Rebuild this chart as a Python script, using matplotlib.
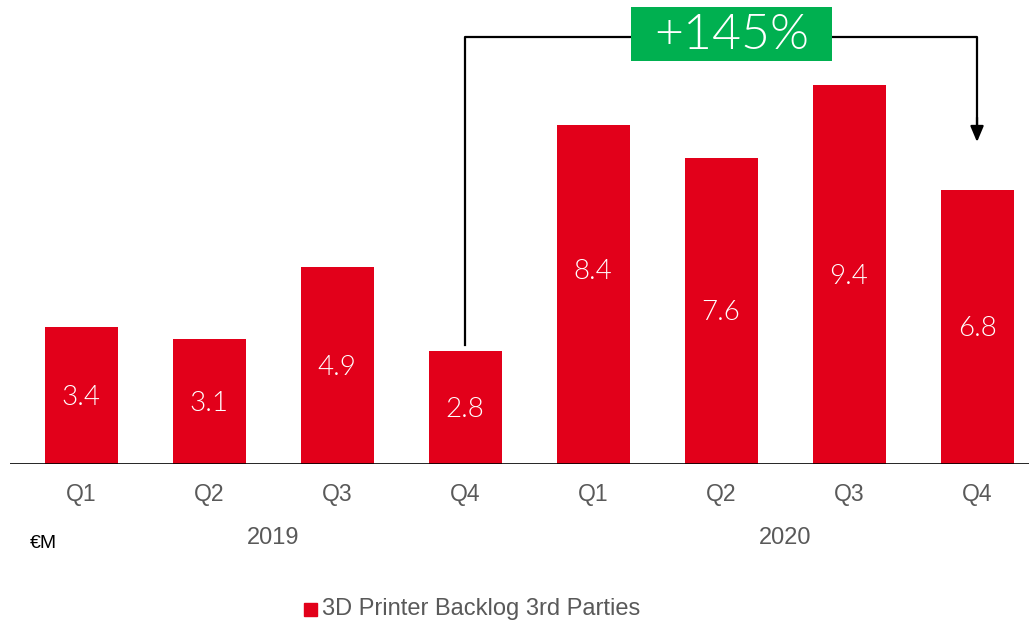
import matplotlib.pyplot as plt
from matplotlib.patches import Rectangle

quarters = ["Q1", "Q2", "Q3", "Q4", "Q1", "Q2", "Q3", "Q4"]
years = ["2019", "2020"]
backlog = [3.4, 3.1, 4.9, 2.8, 8.4, 7.6, 9.4, 6.8]
growth_label = "+145%"
series_name = "3D Printer Backlog 3rd Parties"
unit = "€M"

red = "#E2001A"
green = "#00B050"
grey = "#595959"

plt.rcParams['font.family'] = ['Liberation Sans', 'DejaVu Sans']
thin = ['Lato', 'DejaVu Sans']

fig = plt.figure(figsize=(10.29, 6.22), dpi=100)
W, H = 1029, 622
ax = fig.add_axes([10 / W, (H - 464) / H, 1 - 10 / W, 464 / H])
ax.set_xlim(-0.555, 7.406)
ax.set_ylim(0, 464 / 40.3)
ax.axis('off')

x = list(range(len(backlog)))
ax.bar(x, backlog, width=0.57, color=red, zorder=2)
ax.axhline(0, color="black", lw=1.2, zorder=3)

# value labels, centred in each bar (2020 Q1 sits a little higher)
lift = {4: 0.62}
for i, v in enumerate(backlog):
    ax.text(i, v / 2 + lift.get(i, 0) - 0.05, f"{v}", color="white",
            ha="center", va="center", fontsize=20, family=thin, fontweight=300)

# quarter and year labels under the axis
for i, q in enumerate(quarters):
    ax.text(i, -0.75, q, color=grey, ha="center", va="center", fontsize=16.5,
            clip_on=False)
for k, yr in enumerate(years):
    ax.text(k * 4 + 1.5, -1.84, yr, color=grey, ha="center", va="center",
            fontsize=17, clip_on=False)
ax.text(-0.40, -1.98, unit, color="black", ha="left", va="center",
        fontsize=14, clip_on=False)

# growth bracket from 2019 Q4 to 2020 Q4
top = 10.6
ax.plot([3, 3, 7, 7], [backlog[3] + 0.15, top, top, 8.3], color="black",
        lw=1.6, zorder=3, clip_on=False)
ax.annotate("", xy=(7, 7.99), xytext=(7, 8.6),
            arrowprops=dict(arrowstyle="-|>,head_width=0.4,head_length=0.95",
                            color="black", lw=1.6, shrinkA=0, shrinkB=0))
ax.add_patch(Rectangle((5.08 - 0.785, 10.67 - 0.67), 1.57, 1.34, fc=green,
                       ec="none", zorder=4, clip_on=False))
ax.text(5.08, 10.63, growth_label, color="white", ha="center", va="center",
        fontsize=36, family=thin, fontweight=300, zorder=5, clip_on=False)

# legend
fig.patches.append(Rectangle((304 / W, (H - 616) / H), 13 / W, 13 / H,
                             transform=fig.transFigure, color=red))
fig.text(322 / W, (H - 609) / H, series_name, color=grey, fontsize=17,
         ha="left", va="center")

fig.savefig("out.png", dpi=100)
